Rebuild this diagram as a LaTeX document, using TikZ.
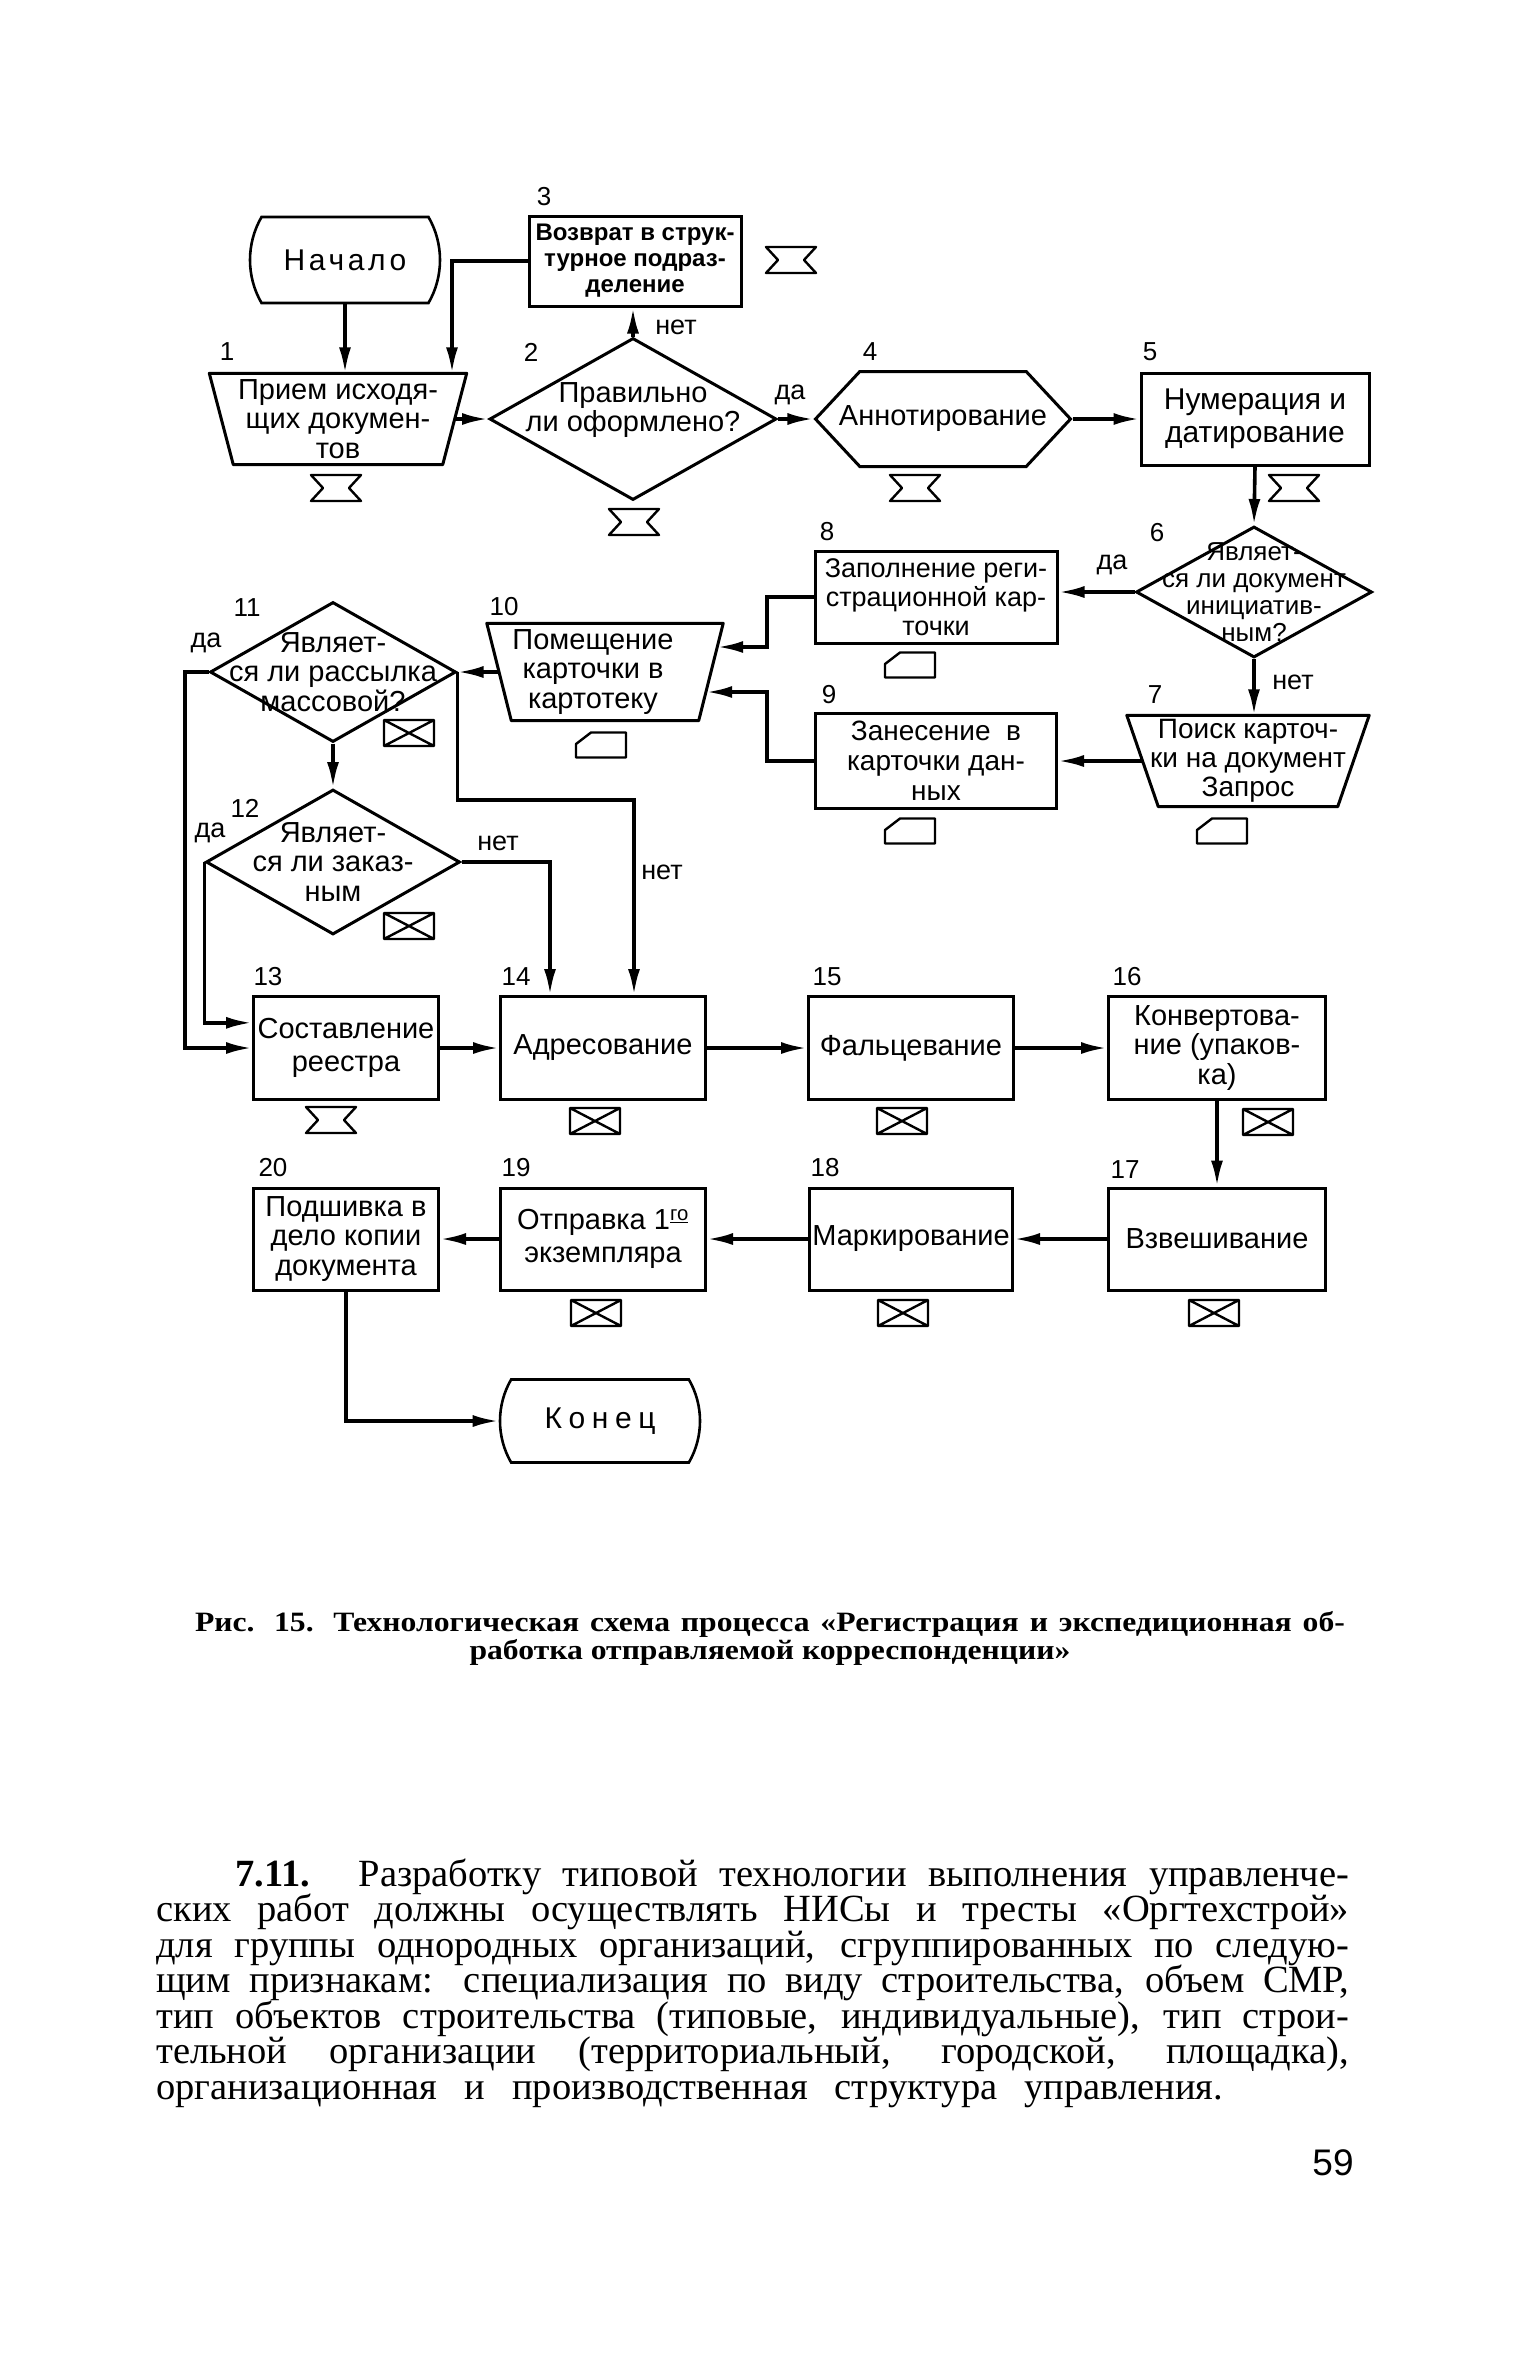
\documentclass[tikz,border=0pt]{standalone}
\usepackage{fontspec}
\setmainfont{Liberation Sans}
\newfontfamily\bookfont{Liberation Serif}
\newfontfamily\capfont[FakeStretch=1.13]{Liberation Serif}
\usetikzlibrary{arrows.meta, shapes.geometric, shapes.misc, shapes.symbols}

\tikzset{
	stepbox/.style={draw, line width=3pt, inner sep=0pt, align=center},
	iobox/.style={inner sep=0pt},
	dec/.style={draw, diamond, line width=3pt, inner sep=0pt},
	prep/.style={draw, signal, signal to=west and east, signal pointer angle=94,
		line width=3pt, inner sep=0pt},
	term/.style={draw, rounded rectangle, rounded rectangle arc length=60,
		line width=2.6pt, inner sep=0pt},
	dims/.style 2 args={minimum width=#1pt, minimum height=#2pt},
	edge line/.style={line width=3pt, line join=round},
	num/.style={inner sep=0pt, font=\fontsize{26}{26}\selectfont},
	ans/.style={inner sep=0pt, font=\fontsize{27}{27}\selectfont},
	flow/.style={line width=3.6pt, -{Latex[length=26pt,width=12pt]}},
	caption/.style={inner sep=0pt, text height=20pt, text depth=6pt,
		font=\capfont\bfseries\fontsize{28}{28}\selectfont},
	txtline/.style={anchor=west, inner sep=0pt, text height=26pt, text depth=8pt,
		font=\bookfont\fontsize{38.5}{36}\selectfont},
	every label/.style={inner sep=0pt, align=center},
	hglass/.pic={\draw[line width=2.4pt, line join=round]
		(-25,-13) -- (25,-13) -- (13,0) -- (25,13) -- (-25,13) -- (-13,0) -- cycle;},
	envl/.pic={\draw[line width=2.4pt, line join=round]
		(-25,-13) rectangle (25,13) (-25,-13) -- (25,13) (-25,13) -- (25,-13);},
	card/.pic={\draw[line width=2.4pt, line join=round]
		(-10,-12.5) -- (25,-12.5) -- (25,12.5) -- (-25,12.5) -- (-25,-1) -- cycle;},
}

\begin{document}
\begin{tikzpicture}[x=1pt, y=-1pt, font=\fontsize{29}{29.5}\selectfont]
	\fill[white] (0,0) rectangle (1535,2362);
	\useasboundingbox (0,0) rectangle (1535,2362);

	% blocks
	\node[term, dims={190}{86}] (start) at (345,260) {\fontsize{30}{30}\selectfont\addfontfeatures{LetterSpace=12}Начало};
	\node[stepbox, dims={212}{90}, font=\bfseries\fontsize{24}{26}\selectfont] (n3) at (635,261) {Возврат в струк-\\турное подраз-\\деление};
	\node[iobox, dims={257}{91}, label=center:{Прием исходя-\\щих докумен-\\тов}] (n1) at (338,419) {};
	\draw[edge line] (n1.north west) -- (n1.north east) -- ([xshift=-24pt]n1.south east) -- ([xshift=24pt]n1.south west) -- cycle;
	\node[dec, dims={287}{162}, label={[yshift=9pt]center:{Правильно\\ли оформлено?}}] (n2) at (633,419) {};
	\node[prep, dims={255}{95}, label=center:{Аннотирование}] (n4) at (943,419) {};
	\node[stepbox, dims={228}{92}, font=\fontsize{30}{33}\selectfont] (n5) at (1255,419) {Нумерация и\\датирование};
	\node[dec, dims={236}{131}, label={[font=\fontsize{26}{27}\selectfont]center:{Являет-\\ся ли документ\\инициатив-\\ным?}}] (n6) at (1254,592) {};
	\node[stepbox, dims={242}{92}, font=\fontsize{27}{29}\selectfont] (n8) at (936,597) {Заполнение реги-\\страционной кар-\\точки};
	\node[iobox, dims={242}{91}, label={[font=\fontsize{28}{29}\selectfont]center:{Поиск карточ-\\ки на документ\\Запрос}}] (n7) at (1248,761) {};
	\draw[edge line] (n7.north west) -- (n7.north east) -- ([xshift=-31.5pt]n7.south east) -- ([xshift=31.5pt]n7.south west) -- cycle;
	\node[stepbox, dims={241}{95}, font=\fontsize{28}{30}\selectfont] (n9) at (936,761) {Занесение \ в\\карточки дан-\\ных};
	\node[iobox, dims={236}{97}, label={[xshift=-12pt]center:{Помещение\\карточки в\\картотеку}}] (n10) at (605,672) {};
	\draw[edge line] (n10.north west) -- (n10.north east) -- ([xshift=-24.5pt]n10.south east) -- ([xshift=24.5pt]n10.south west) -- cycle;
	\node[dec, dims={246}{140}, label=center:{Являет-\\ся ли рассылка\\массовой?}] (n11) at (333,672) {};
	\node[dec, dims={254}{145}, label=center:{Являет-\\ся ли заказ-\\ным}] (n12) at (333,862) {};
	\node[stepbox, dims={185}{103}] (n13) at (346,1048) {Составление\\[4pt]реестра};
	\node[stepbox, dims={205}{103}] (n14) at (603,1048) {Адресование};
	\node[stepbox, dims={205}{103}] (n15) at (911,1048) {Фальцевание};
	\node[stepbox, dims={217}{103}] (n16) at (1217,1048) {Конвертова-\\ние (упаков-\\ка)};
	\node[stepbox, dims={217}{102}] (n17) at (1217,1239) {Взвешивание};
	\node[stepbox, dims={203}{102}] (n18) at (911,1239) {Маркирование};
	\node[stepbox, dims={205}{102}] (n19) at (603,1239) {Отправка 1\textsuperscript{\underline{го}}\\[4pt]экземпляра};
	\node[stepbox, dims={185}{102}] (n20) at (346,1239) {Подшивка в\\дело копии\\документа};
	\node[term, dims={200}{83}] (stop) at (600,1421) {\fontsize{30}{30}\selectfont\addfontfeatures{LetterSpace=22}Конец};

	% numbers
	\node[num] (l1) at (227,352) {1};
	\node[num] (l2) at (531,352) {2};
	\node[num] (l3) at (544,197) {3};
	\node[num] (l4) at (870,352) {4};
	\node[num] (l5) at (1150,352) {5};
	\node[num] (l6) at (1157,533) {6};
	\node[num] (l7) at (1155,695) {7};
	\node[num] (l8) at (827,532) {8};
	\node[num] (l9) at (829,695) {9};
	\node[num] (l10) at (504,607) {10};
	\node[num] (l11) at (247,608) {11};
	\node[num] (l12) at (245,808) {12};
	\node[num] (l13) at (268,977) {13};
	\node[num] (l14) at (516,977) {14};
	\node[num] (l15) at (827,977) {15};
	\node[num] (l16) at (1127,977) {16};
	\node[num] (l17) at (1125,1170) {17};
	\node[num] (l18) at (825,1168) {18};
	\node[num] (l19) at (516,1168) {19};
	\node[num] (l20) at (273,1168) {20};

	% bends
	\coordinate (b3) at (452,265);
	\coordinate (b8) at (767,620);
	\coordinate (b9) at (767,730);
	\coordinate (b11) at (185,900);
	\coordinate (b12) at (550,862);
	\coordinate (b14) at (634,800);

	% connectors
	\draw[flow] (start.south) -- (start.south |- n1.north);
	\draw[flow] (n3.west) -| (b3 |- n1.north);
	\draw[flow] ([xshift=-12pt]n1.east) -- (n2.west);
	\draw[flow] (n2.north) -- (n2.north |- n3.south);
	\draw[flow] (n2.east) -- (n4.west);
	\draw[flow] (n4.east) -- (n5.west);
	\draw[flow] (n5.south) -- (n6.north);
	\draw[flow] (n6.west) -- (n6.west -| n8.east);
	\draw[flow] (n6.south) -- (n6.south |- n7.north);
	\draw[flow] ([xshift=16pt]n7.west) -- (n9.east);
	\draw[flow] (n8.west) -| (b8) |- ([xshift=-6pt,yshift=25pt]n10.east);
	\draw[flow] (n9.west) -| (b9) |- ([xshift=-17pt,yshift=-20pt]n10.east);
	\draw[flow] ([xshift=12pt]n10.west) -- (n11.east);
	\draw[flow] (n11.south) -- (n12.north);
	\draw[flow] (n11.west) -| (b11) |- (n13.west);
	\draw[flow] (n12.west) |- (n13.165);
	\draw[flow] (n12.east) -- (b12) -- (b12 |- n14.north);
	\draw[flow] (n11.east) |- (b14) -- (b14 |- n14.north);
	\draw[flow] (n13) -- (n14);
	\draw[flow] (n14) -- (n15);
	\draw[flow] (n15) -- (n16);
	\draw[flow] (n16) -- (n17);
	\draw[flow] (n17) -- (n18);
	\draw[flow] (n18) -- (n19);
	\draw[flow] (n19) -- (n20);
	\draw[flow] (n20.south) |- (stop.west);

	% yes / no
	\node[ans] (t2no) at (676,327) {нет};
	\node[ans] (t2yes) at (790,395) {да};
	\node[ans] (t6yes) at (1112,565) {да};
	\node[ans] (t6no) at (1293,682) {нет};
	\node[ans] (t11yes) at (206,643) {да};
	\node[ans] (t11no) at (662,872) {нет};
	\node[ans] (t12yes) at (210,833) {да};
	\node[ans] (t12no) at (498,843) {нет};

	% symbols
	\pic at (791,260) {hglass};
	\pic at (336,488) {hglass};
	\pic at (634,522) {hglass};
	\pic at (915,488) {hglass};
	\pic at (1294,488) {hglass};
	\pic at (331,1120) {hglass};
	\pic at (910,665) {card};
	\pic at (601,745) {card};
	\pic at (910,831) {card};
	\pic at (1222,831) {card};
	\pic at (409,733) {envl};
	\pic at (409,926) {envl};
	\pic at (595,1121) {envl};
	\pic at (902,1121) {envl};
	\pic at (1268,1122) {envl};
	\pic at (1214,1313) {envl};
	\pic at (903,1313) {envl};
	\pic at (596,1313) {envl};

	% caption
	\node[caption] (cap1) at (770,1624)
		{\makebox[1150pt][s]{Рис. 15. Технологическая схема процесса «Регистрация и экспедиционная об-}};
	\node[caption] (cap2) at (770,1652)
		{работка отправляемой корреспонденции»};

	% text
	\node[txtline] (p1) at (235,1877)
		{\makebox[1114pt][s]{\textbf{7.11.} Разработку типовой технологии выполнения управленче-}};
	\node[txtline] (p2) at (156,1912)
		{\makebox[1193pt][s]{ских работ должны осуществлять НИСы и тресты «Оргтехстрой»}};
	\node[txtline] (p3) at (156,1948)
		{\makebox[1193pt][s]{для группы однородных организаций, сгруппированных по следую-}};
	\node[txtline] (p4) at (156,1983)
		{\makebox[1193pt][s]{щим признакам: специализация по виду строительства, объем СМР,}};
	\node[txtline] (p5) at (156,2019)
		{\makebox[1193pt][s]{тип объектов строительства (типовые, индивидуальные), тип строи-}};
	\node[txtline] (p6) at (156,2054)
		{\makebox[1193pt][s]{тельной организации (территориальный, городской, площадка),}};
	\node[txtline] (p7) at (156,2090)
		{\makebox[1067pt][s]{организационная и производственная структура управления.}};
	\node[inner sep=0pt, font=\fontsize{37}{37}\selectfont] (pg) at (1333,2163) {59};
\end{tikzpicture}
\end{document}
